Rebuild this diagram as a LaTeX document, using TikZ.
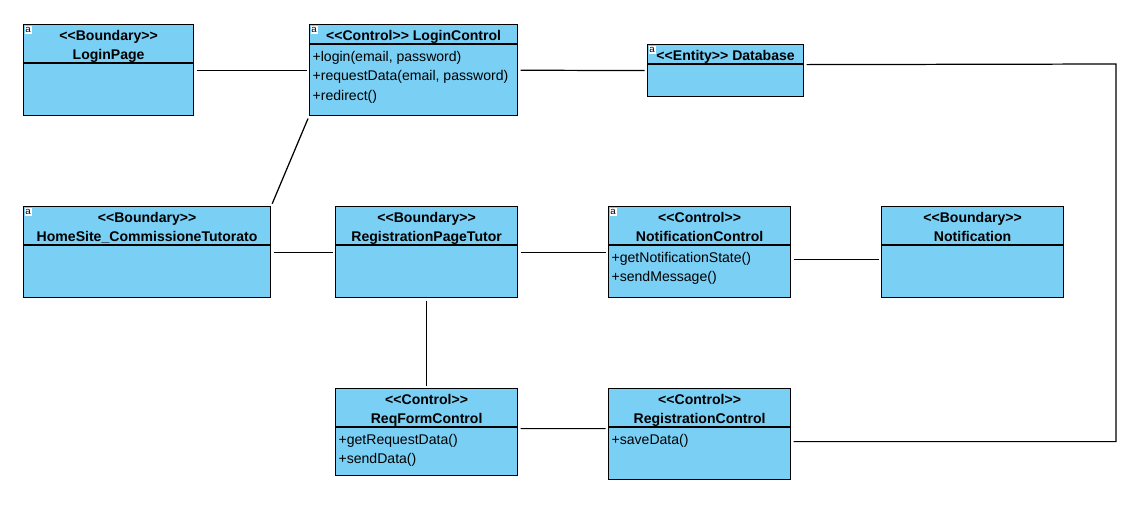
\documentclass[tikz,border=0pt]{standalone}
\usepackage{fontspec}
\setmainfont{Liberation Sans}[Ligatures=TeXOff]
\usetikzlibrary{positioning}
\definecolor{clsblue}{RGB}{122,207,245}
\newcommand{\px}{0.02cm}
% one uml class: name, x, y, width, height, header height, header, operations
\newcommand{\umlclass}[8]{%
  \node[cls, minimum width=#4*\px, minimum height=#5*\px] (#1) at (#2,#3) {};
  \draw ([yshift=-#6*\px]#1.north west) -- ([yshift=-#6*\px]#1.north east);
  \node[head, anchor=base] (#1-head) at ([yshift=-16*\px]#1.north) {\begin{tabular}[t]{@{}c@{}}#7\end{tabular}};
  \node[ops, anchor=base west] (#1-ops) at ([xshift=3*\px, yshift=-(#6+17)*\px]#1.north west) {\begin{tabular}[t]{@{}l@{}}#8\end{tabular}};
}
\newcommand{\umlicon}[1]{%
  \node[icon, anchor=north west] (#1-icon) at ([shift={(1*\px,-1*\px)}]#1.north west) {a};
}
\begin{document}
\begin{tikzpicture}[x=0.02cm, y=-0.02cm, line width=0.7pt,
		cls/.style = {draw, fill=clsblue, anchor=north west, inner sep=0pt},
		head/.style = {font=\fontsize{8}{11.2}\selectfont\bfseries, inner sep=0pt},
		ops/.style = {font=\fontsize{8}{11.2}\selectfont, inner sep=0pt},
		icon/.style = {fill=white, inner sep=0.2pt, minimum width=7*\px, minimum height=8*\px, font=\fontsize{5.5}{5.5}\selectfont},
		assoc/.style = {draw, shorten <=0.05cm, shorten >=0.05cm}]
	\useasboundingbox (0,0) rectangle (1140,512);
	% top row
	\umlclass{loginpage}{23}{24}{170}{91}{39}{<<Boundary>>\\LoginPage}{}
	\umlclass{loginctl}{309}{24}{208}{91}{20}{<<Control>> LoginControl}{+login(email, password)\\+requestData(email, password)\\+redirect()}
	\umlclass{db}{647}{44}{156}{52}{20}{<<Entity>> Database}{}
	% middle row
	\umlclass{homesite}{23}{206}{247}{91}{39}{<<Boundary>>\\HomeSite\_CommissioneTutorato}{}
	\umlclass{regpage}{335}{206}{182}{91}{39}{<<Boundary>>\\RegistrationPageTutor}{}
	\umlclass{notifctl}{608}{206}{182}{91}{39}{<<Control>>\\NotificationControl}{+getNotificationState()\\+sendMessage()}
	\umlclass{notif}{881}{206}{182}{91}{39}{<<Boundary>>\\Notification}{}
	% bottom row
	\umlclass{reqform}{335}{388}{182}{87}{39}{<<Control>>\\ReqFormControl}{+getRequestData()\\+sendData()}
	\umlclass{regctl}{608}{388}{182}{91}{39}{<<Control>>\\RegistrationControl}{+saveData()}
	\umlicon{loginpage}
	\umlicon{loginctl}
	\umlicon{db}
	\umlicon{homesite}
	\umlicon{notifctl}
	% associations
	\draw[assoc] (loginpage) -- (loginctl);
	\draw[assoc] (loginctl) -- (db);
	\draw[assoc] (loginctl.south west) -- (homesite.north east);
	\draw[assoc] (homesite) -- (regpage);
	\draw[assoc] (regpage) -- (notifctl);
	\draw[assoc] ([yshift=-0.14cm]notifctl.east) -- ([yshift=-0.14cm]notif.west);
	\draw[assoc] (regpage) -- (reqform);
	\draw[assoc] ([yshift=0.07cm]reqform.east) -- ([yshift=0.11cm]regctl.west);
	\coordinate (bend) at (1116,64);
	\draw[assoc] ([yshift=0.12cm]db.east) -- (bend) |- ([yshift=-0.15cm]regctl.east);
\end{tikzpicture}
\end{document}
